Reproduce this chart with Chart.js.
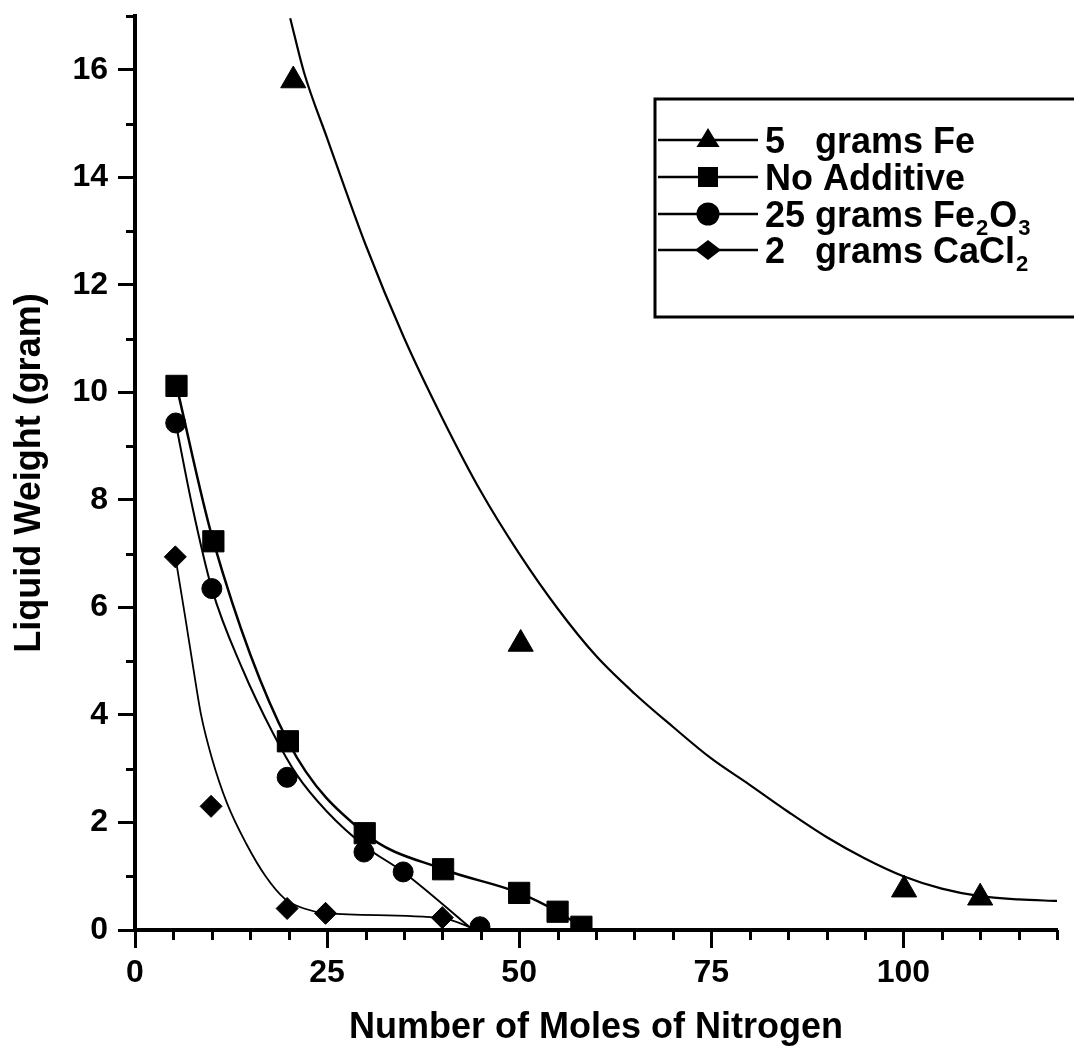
<!DOCTYPE html>
<html><head><meta charset="utf-8">
<script src="https://cdn.jsdelivr.net/npm/chart.js@4.4.1/dist/chart.umd.min.js"></script>
<style>html,body{margin:0;padding:0;background:#fff;} #wrap{width:1074px;height:1050px;}</style>
</head><body><div id="wrap"><canvas id="c" width="1074" height="1050"></canvas></div>
<script>
const FONT = "'Liberation Sans', Arial, Helvetica, sans-serif";

// Axis ticks
const xTicks = [0, 25, 50, 75, 100];
const yTicks = [0, 2, 4, 6, 8, 10, 12, 14, 16];
const xMinorTicks = [5, 10, 15, 20, 30, 35, 40, 45, 55, 60, 65, 70, 80, 85, 90, 95, 105, 110, 115, 120];
const yMinorTicks = [1, 3, 5, 7, 9, 11, 13, 15, 17];

// Series names
const seriesNames = ['5 grams Fe', 'No Additive', '25 grams Fe2O3', '2 grams CaCl2'];

// Measured points
const feX = [20.6, 50.2, 100.1, 110.0];
const feY = [15.8, 5.32, 0.75, 0.60];
const noAddX = [5.4, 10.2, 19.9, 29.9, 40.1, 50.0, 55.0, 58.1];
const noAddY = [10.12, 7.23, 3.51, 1.80, 1.13, 0.69, 0.34, 0.06];
const fe2o3X = [5.3, 10.0, 19.8, 29.8, 34.9, 44.9];
const fe2o3Y = [9.43, 6.35, 2.84, 1.45, 1.08, 0.06];
const caclX = [5.25, 9.9, 19.8, 24.8, 40.0];
const caclY = [6.94, 2.30, 0.40, 0.31, 0.23];

// Fitted curves
const feFitX = [20.2, 22, 25, 30, 35, 40, 45, 50, 55, 60, 65, 70, 75, 80, 85, 90, 95, 100, 105, 110, 115, 120];
const feFitY = [16.96, 15.95, 14.73, 12.75, 11.02, 9.52, 8.16, 7.0, 5.98, 5.10, 4.40, 3.78, 3.19, 2.70, 2.20, 1.73, 1.33, 1.0, 0.77, 0.63, 0.57, 0.54];
const fe2o3FitX = [5.3, 7.5, 10.0, 14.0, 18.0, 21.0, 25.0, 30.0, 34.9, 44.0];
const fe2o3FitY = [9.43, 7.85, 6.35, 4.85, 3.65, 2.90, 2.20, 1.55, 1.08, 0.0];
const caclFitX = [5.3, 6.5, 7.5, 8.6, 10.0, 12.0, 14.5, 17.0, 19.5, 22.0, 25.0, 40.0, 44.5];
const caclFitY = [6.9, 5.85, 4.95, 4.0, 3.2, 2.35, 1.6, 1.0, 0.58, 0.40, 0.31, 0.22, 0.0];

const pts = (xs, ys) => xs.map((x, i) => ({x: x, y: ys[i]}));
const CLIP = {left: 30, top: 30, right: 30, bottom: 0};

function curve(xs, ys, w) {
  return {data: pts(xs, ys), showLine: true, borderColor: '#000', borderWidth: w,
    pointRadius: 0, pointHoverRadius: 0, fill: false, clip: CLIP, cubicInterpolationMode: 'monotone'};
}
function markers(xs, ys, style, r) {
  return {data: pts(xs, ys), showLine: false, pointStyle: style, pointRadius: r,
    pointBackgroundColor: '#000', pointBorderColor: '#000', pointBorderWidth: 1, clip: CLIP};
}

const minorTicksPlugin = {
  id: 'minorTicks',
  afterDraw(chart) {
    const ctx = chart.ctx, xs = chart.scales.x, ys = chart.scales.y, a = chart.chartArea;
    ctx.save();
    ctx.strokeStyle = '#000';
    ctx.lineWidth = 3;
    ctx.beginPath();
    xMinorTicks.forEach(v => { const p = Math.round(xs.getPixelForValue(v)) + 0.5; ctx.moveTo(p, a.bottom); ctx.lineTo(p, a.bottom + 10); });
    yMinorTicks.forEach(v => { const p = Math.round(ys.getPixelForValue(v)) + 0.5; ctx.moveTo(a.left - 9, p); ctx.lineTo(a.left, p); });
    ctx.stroke();
    ctx.restore();
  }
};

const legendPlugin = {
  id: 'customLegend',
  afterDraw(chart) {
    const ctx = chart.ctx;
    ctx.save();
    ctx.strokeStyle = '#000';
    ctx.fillStyle = '#000';
    ctx.lineWidth = 3;
    ctx.strokeRect(655, 99, 460, 218);
    const rows = [140, 177, 214, 250];
    const lx0 = 658, lx1 = 758, mx = 708, tx = 765;
    ctx.lineWidth = 2.5;
    rows.forEach(y => { ctx.beginPath(); ctx.moveTo(lx0, y); ctx.lineTo(lx1, y); ctx.stroke(); });
    let y = rows[0];
    ctx.beginPath(); ctx.moveTo(mx, y - 12); ctx.lineTo(mx + 11.5, y + 7); ctx.lineTo(mx - 11.5, y + 7); ctx.closePath(); ctx.fill();
    y = rows[1]; ctx.fillRect(mx - 10, y - 10, 20, 20);
    y = rows[2]; ctx.beginPath(); ctx.arc(mx, y, 11.5, 0, Math.PI * 2); ctx.fill();
    y = rows[3]; ctx.beginPath(); ctx.moveTo(mx - 13, y); ctx.lineTo(mx, y - 10); ctx.lineTo(mx + 13, y); ctx.lineTo(mx, y + 10); ctx.closePath(); ctx.fill();
    const big = 'bold 36px ' + FONT, small = 'bold 22px ' + FONT;
    ctx.font = big;
    ctx.textBaseline = 'alphabetic';
    ctx.textAlign = 'left';
    const base = r => r + 13;
    const gx = tx + ctx.measureText('25 ').width;
    ctx.fillText('5', tx, base(rows[0]));
    ctx.fillText('grams Fe', gx, base(rows[0]));
    ctx.fillText('No Additive', tx, base(rows[1]));
    let x = tx;
    ctx.fillText('25 grams Fe', x, base(rows[2])); x += ctx.measureText('25 grams Fe').width + 1;
    ctx.font = small; ctx.fillText('2', x, base(rows[2]) + 8); x += ctx.measureText('2').width + 1;
    ctx.font = big; ctx.fillText('O', x, base(rows[2])); x += ctx.measureText('O').width + 1;
    ctx.font = small; ctx.fillText('3', x, base(rows[2]) + 8);
    ctx.font = big;
    ctx.fillText('2', tx, base(rows[3]));
    ctx.fillText('grams CaCl', gx, base(rows[3]));
    x = gx + ctx.measureText('grams CaCl').width + 1;
    ctx.font = small; ctx.fillText('2', x, base(rows[3]) + 8);
    ctx.restore();
  }
};

const tickFont = {family: FONT, size: 32, weight: 'bold'};
const titleFont = {family: FONT, size: 36, weight: 'bold'};

new Chart(document.getElementById('c'), {
  type: 'scatter',
  data: {
    datasets: [
      curve(feFitX, feFitY, 2.2),
      curve(noAddX, noAddY, 2.5),
      curve(fe2o3FitX, fe2o3FitY, 2),
      curve(caclFitX, caclFitY, 1.8),
      markers(feX, feY, 'triangle', 14.5),
      markers(noAddX, noAddY, 'rect', 15),
      markers(fe2o3X, fe2o3Y, 'circle', 10),
      markers(caclX, caclY, 'rectRot', 11)
    ]
  },
  options: {
    responsive: false,
    maintainAspectRatio: false,
    animation: false,
    devicePixelRatio: 1,
    layout: {padding: {top: 12, right: 17, left: 0, bottom: 0}},
    plugins: {legend: {display: false}, tooltip: {enabled: false}},
    scales: {
      x: {
        type: 'linear', min: 0, max: 120, z: 1,
        afterBuildTicks: s => { s.ticks = xTicks.map(v => ({value: v})); },
        afterFit: s => { s.height = 120; s.paddingLeft = 0; s.paddingRight = 0; },
        grid: {display: true, drawOnChartArea: false, drawTicks: true, tickLength: 18, tickWidth: 3, tickColor: '#000'},
        border: {display: true, color: '#000', width: 4},
        ticks: {font: tickFont, color: '#000', padding: 6, maxRotation: 0, autoSkip: false},
        title: {display: true, text: 'Number of Moles of Nitrogen', font: titleFont, color: '#000', padding: {top: 0, bottom: 0}}
      },
      y: {
        type: 'linear', min: 0, max: 17, z: 1,
        afterBuildTicks: s => { s.ticks = yTicks.map(v => ({value: v})); },
        afterFit: s => { s.width = 135; s.paddingTop = 0; s.paddingBottom = 0; },
        grid: {display: true, drawOnChartArea: false, drawTicks: true, tickLength: 17, tickWidth: 3, tickColor: '#000'},
        border: {display: true, color: '#000', width: 4},
        ticks: {font: tickFont, color: '#000', padding: 10, autoSkip: false},
        title: {display: true, text: 'Liquid Weight (gram)', font: titleFont, color: '#000', padding: {top: 8, bottom: 0}}
      }
    }
  },
  plugins: [minorTicksPlugin, legendPlugin]
});
</script>
</body></html>
